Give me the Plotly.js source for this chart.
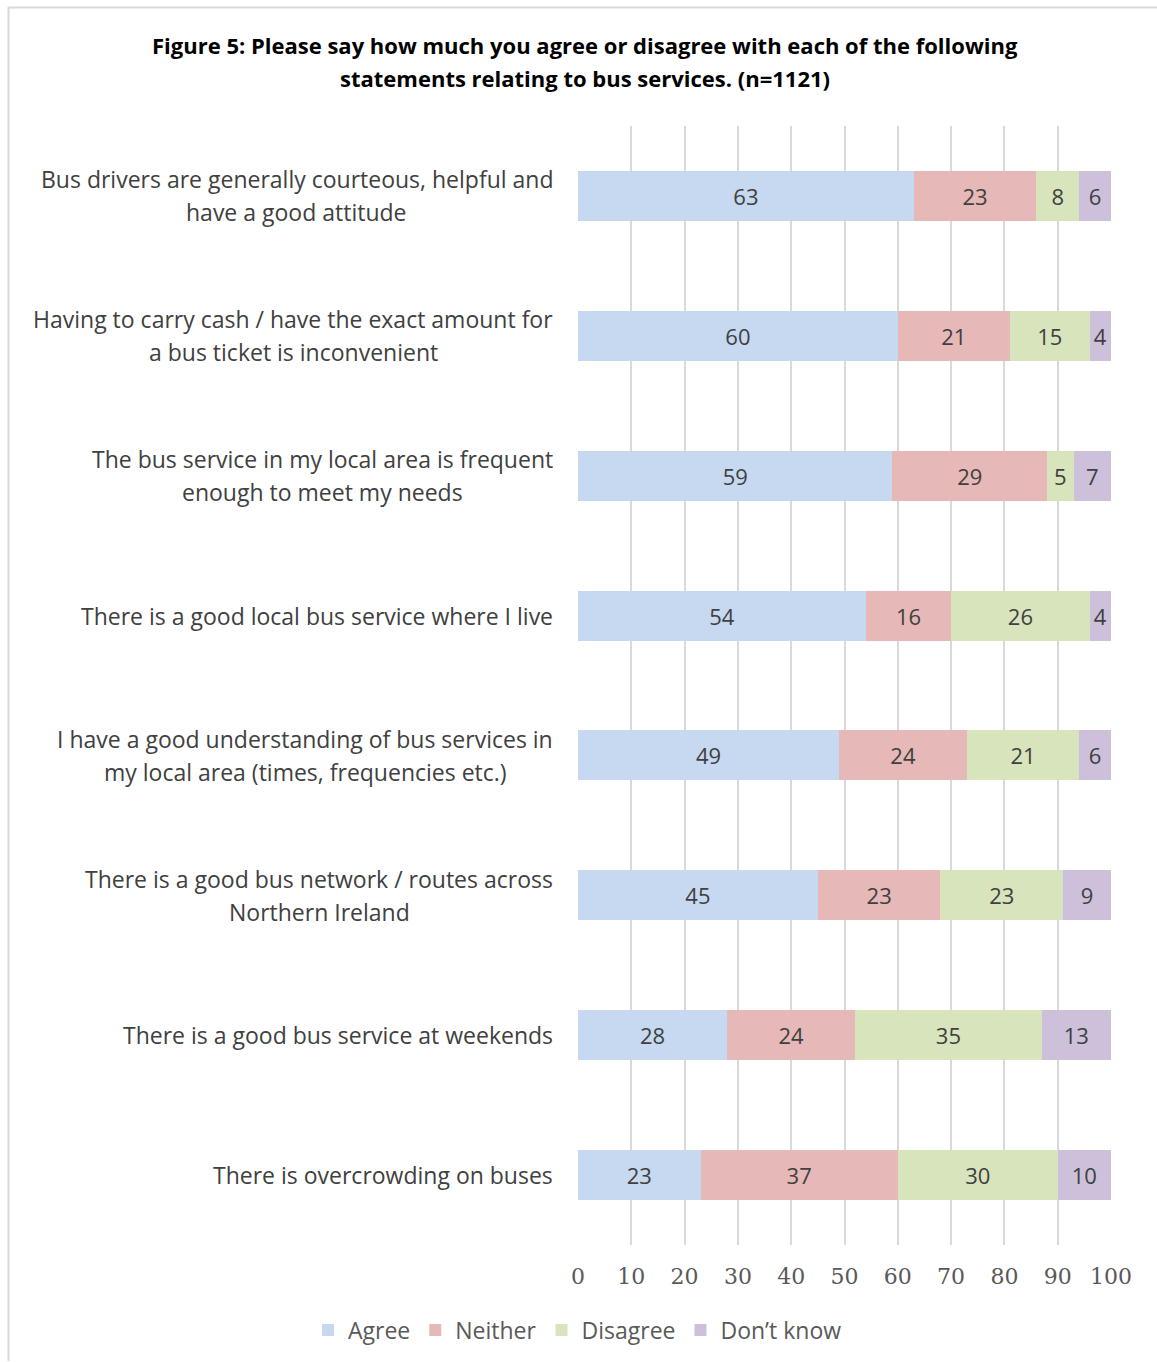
<!DOCTYPE html>
<html>
<head>
<meta charset="utf-8">
<script src="https://cdn.plot.ly/plotly-3.0.1.min.js"></script>
<style>
html,body{margin:0;padding:0;background:#fff;}
#chart{width:1157px;height:1362px;}
</style>
</head>
<body>
<div id="chart"></div>
<script>
const categories = [
  "Bus drivers are generally courteous, helpful and<br>have a good attitude",
  "Having to carry cash / have the exact amount for<br>a bus ticket is inconvenient",
  "The bus service in my local area is frequent<br>enough to meet my needs",
  "There is a good local bus service where I live",
  "I have a good understanding of bus services in<br>my local area (times, frequencies etc.)",
  "There is a good bus network / routes across<br>Northern Ireland",
  "There is a good bus service at weekends",
  "There is overcrowding on buses"
];
const agree     = [63, 60, 59, 54, 49, 45, 28, 23];
const neither   = [23, 21, 29, 16, 24, 23, 24, 37];
const disagree  = [8, 15, 5, 26, 21, 23, 35, 30];
const dontKnow  = [6, 4, 7, 4, 6, 9, 13, 10];
const seriesNames = ["Agree", "Neither", "Disagree", "Don\u2019t know"];
const xTicks = [0, 10, 20, 30, 40, 50, 60, 70, 80, 90, 100];
const titleLines = [
  "Figure 5: Please say how much you agree or disagree with each of the following",
  "statements relating to bus services. (n=1121)"
];

const colors = ["#C6D9F0", "#E6B8B7", "#D8E4BC", "#CCC0DA"];
const seriesData = [agree, neither, disagree, dontKnow];
const sans = "'Open Sans', Lato, sans-serif";
const textFont = {family: sans, size: 22, color: "#404040"};

const traces = seriesData.map((vals, i) => ({
  type: "bar",
  orientation: "h",
  name: seriesNames[i],
  y: categories,
  x: vals,
  marker: {color: colors[i], line: {width: 0}},
  width: 0.357,
  text: vals.map(String),
  textposition: "inside",
  insidetextanchor: "middle",
  textangle: 0,
  insidetextfont: textFont,
  constraintext: "none",
  hoverinfo: "skip"
}));

function build() {
  const canvas = document.createElement("canvas");
  const ctx = canvas.getContext("2d");
  ctx.font = "23px 'Open Sans'";
  const rightEdgePx = -25; // relative to plot left edge

  const annotations = [];
  categories.forEach(c => {
    const lines = c.split("<br>");
    const n = lines.length;
    const maxW = Math.max(...lines.map(l => ctx.measureText(l).width));
    lines.forEach((ln, k) => {
      annotations.push({
        xref: "paper", yref: "y",
        x: (rightEdgePx - maxW / 2) / 533, y: c,
        xanchor: "center", yanchor: "middle",
        yshift: ((n - 1) / 2 - k) * 33,
        text: ln, showarrow: false, align: "center",
        font: {family: sans, size: 23, color: "#404040"}
      });
    });
  });
  titleLines.forEach((ln, k) => {
    annotations.push({
      xref: "paper", yref: "paper",
      x: (584.5 - 578)/533, y: (1246 - (45 + 33 * k))/1120,
      xanchor: "center", yanchor: "middle",
      text: "<b>" + ln + "</b>",
      showarrow: false, align: "center",
      font: {family: sans, size: 22, color: "#000000"}
    });
  });

  const layout = {
    width: 1157, height: 1362,
    margin: {l: 578, r: 46, t: 126, b: 116},
    paper_bgcolor: "#ffffff", plot_bgcolor: "#ffffff",
    barmode: "stack",
    showlegend: true,
    legend: {
      orientation: "h",
      x: (308 - 578)/533, xanchor: "left",
      y: (1246 - 1330)/1120, yanchor: "middle",
      font: {family: sans, size: 23, color: "#595959"},
      traceorder: "normal", itemwidth: 30, itemsizing: "constant"
    },
    xaxis: {
      range: [0, 100], tickvals: xTicks, ticktext: xTicks.map(String),
      showgrid: true, gridcolor: "#D9D9D9", gridwidth: 2,
      zeroline: false, showline: false, ticks: "",
      ticklabelstandoff: 16,
      tickfont: {family: "'DejaVu Serif', 'Liberation Serif', serif", size: 22, color: "#595959"},
      fixedrange: true
    },
    yaxis: {
      type: "category", autorange: "reversed",
      range: [7.5, -0.5],
      showticklabels: false, showgrid: false, zeroline: false, showline: false, ticks: "",
      fixedrange: true
    },
    annotations: annotations,
    shapes: [
      {type: "line", xref: "paper", yref: "paper",
       x0: (8.5 - 578)/533, x1: (8.5 - 578)/533, y0: (1246 - 7)/1120, y1: (1246 - 1362)/1120,
       line: {color: "#D9D9D9", width: 2}},
      {type: "line", xref: "paper", yref: "paper",
       x0: (8.5 - 578)/533, x1: (1157 - 578)/533, y0: (1246 - 7.5)/1120, y1: (1246 - 7.5)/1120,
       line: {color: "#D9D9D9", width: 2}}
    ]
  };
  Plotly.newPlot("chart", traces, layout, {displayModeBar: false, staticPlot: true});
}

document.fonts.load("23px 'Open Sans'").then(build).catch(build);
</script>
</body>
</html>
